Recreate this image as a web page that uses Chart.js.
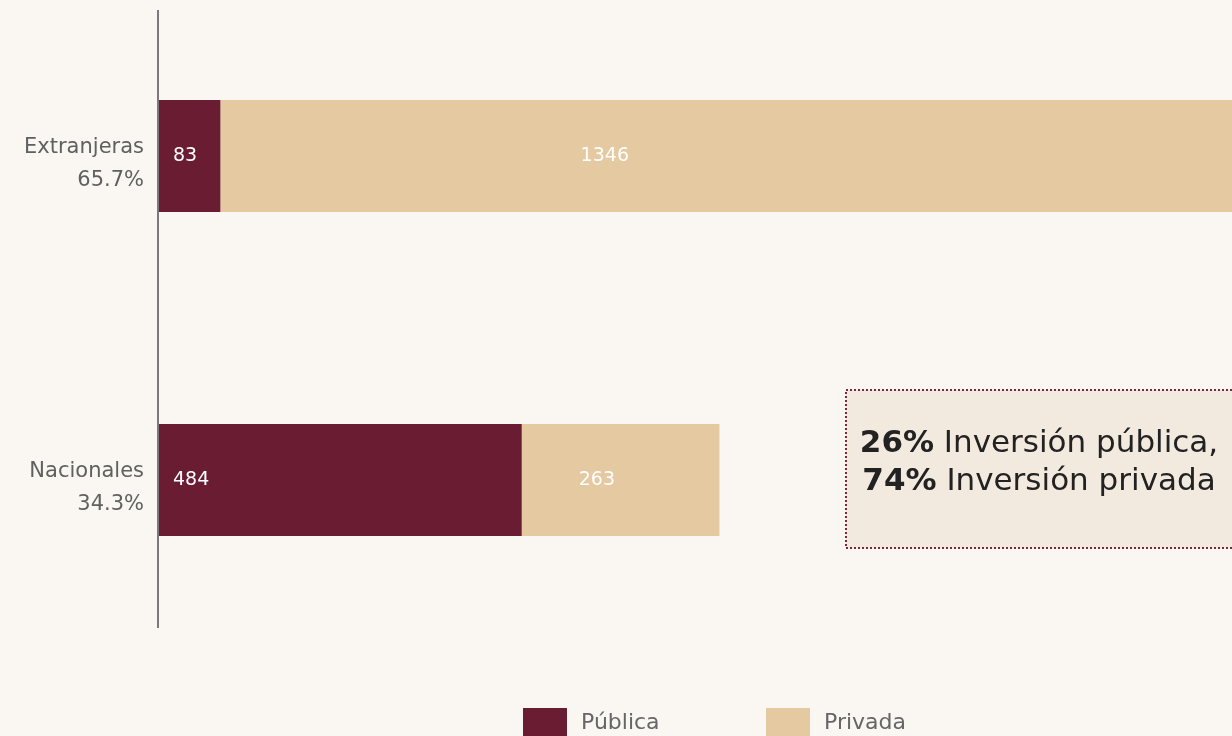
<!DOCTYPE html>
<html>
<head>
<meta charset="utf-8">
<script src="https://cdn.jsdelivr.net/npm/chart.js@4.4.1/dist/chart.umd.min.js"></script>
<style>
  html, body { margin: 0; padding: 0; background: #faf7f2; overflow: hidden; }
  #wrap { position: absolute; left: 0; top: -6px; width: 1232px; height: 780px; }
</style>
</head>
<body>
<div id="wrap"><canvas id="c"></canvas></div>
<script>
// categories, series and tick labels
const categories = ['Extranjeras', 'Nacionales'];
const shareLabels = ['65.7%', '34.3%'];
const publica = [83, 484];
const privada = [1346, 263];
const seriesNames = ['Pública', 'Privada'];
const seriesColors = ['#691c32', '#e4c9a1'];
const noteLines = [['26%', ' Inversión pública,'], ['74%', ' Inversión privada']];

const FONT = '"DejaVu Sans", sans-serif';
const totals = categories.map((c, i) => publica[i] + privada[i]);

// value labels inside bars
const barLabels = {
  id: 'barLabels',
  afterDatasetsDraw(chart) {
    const ctx = chart.ctx;
    ctx.save();
    ctx.font = '19px ' + FONT;
    ctx.fillStyle = '#ffffff';
    ctx.textBaseline = 'middle';
    chart.data.datasets.forEach((ds, di) => {
      const meta = chart.getDatasetMeta(di);
      meta.data.forEach((bar, i) => {
        const txt = String(ds.data[i]);
        if (di === 0) {
          ctx.textAlign = 'left';
          ctx.fillText(txt, bar.base + 15, bar.y);
        } else {
          ctx.textAlign = 'center';
          ctx.fillText(txt, bar.base + (bar.x - bar.base) * 0.38, bar.y);
        }
      });
    });
    ctx.restore();
  }
};

// axis line, note box and legend
const extras = {
  id: 'extras',
  afterDraw(chart) {
    const ctx = chart.ctx;
    const a = chart.chartArea;
    ctx.save();
    // vertical axis line
    ctx.strokeStyle = '#7a7a7a'; ctx.lineWidth = 2;
    ctx.beginPath(); ctx.moveTo(a.left, a.top + 16); ctx.lineTo(a.left, a.bottom - 14); ctx.stroke();

    // note box
    const bx = 846, by = 396, bw = 400, bh = 158;
    ctx.fillStyle = '#f3eadf';
    ctx.fillRect(bx, by, bw, bh);
    ctx.strokeStyle = '#7a2a3c'; ctx.lineWidth = 2; ctx.setLineDash([2, 2]);
    ctx.strokeRect(bx, by, bw, bh);
    ctx.setLineDash([]);
    ctx.fillStyle = '#222222'; ctx.textBaseline = 'middle'; ctx.textAlign = 'left';
    const cx = 1039;
    noteLines.forEach((ln, k) => {
      ctx.font = 'bold 31px ' + FONT;
      const w1 = ctx.measureText(ln[0]).width;
      ctx.font = '31px ' + FONT;
      const w2 = ctx.measureText(ln[1]).width;
      const x0 = cx - (w1 + w2) / 2;
      const y = by + 54 + k * 38;
      ctx.font = 'bold 31px ' + FONT; ctx.fillText(ln[0], x0, y);
      ctx.font = '31px ' + FONT; ctx.fillText(ln[1], x0 + w1, y);
    });

    // legend
    const lx = [523, 766], ly = 714;
    ctx.font = '22px ' + FONT; ctx.textBaseline = 'middle';
    seriesNames.forEach((n, k) => {
      ctx.fillStyle = seriesColors[k];
      ctx.fillRect(lx[k], ly, 44, 32);
      ctx.fillStyle = '#666666';
      ctx.fillText(n, lx[k] + 58, ly + 15);
    });
    ctx.restore();
  }
};

new Chart(document.getElementById('c'), {
  type: 'bar',
  data: {
    labels: categories,
    datasets: [
      { label: seriesNames[0], data: publica, backgroundColor: seriesColors[0], borderWidth: 0 },
      { label: seriesNames[1], data: privada, backgroundColor: seriesColors[1], borderWidth: 0 }
    ]
  },
  options: {
    indexAxis: 'y',
    responsive: true,
    maintainAspectRatio: false,
    animation: false,
    layout: { padding: { top: 0, right: 0, bottom: 132, left: 0 } },
    plugins: { legend: { display: false }, tooltip: { enabled: false } },
    datasets: { bar: { categoryPercentage: 0.345, barPercentage: 1 } },
    scales: {
      x: { stacked: true, display: false, min: 0, max: Math.max(...totals) },
      y: {
        stacked: true,
        grid: { display: false, drawTicks: false },
        border: { display: false },
        afterFit(s) { s.width = 158; s.paddingTop = 0; s.paddingBottom = 0; },
        ticks: {
          padding: 14,
          labelOffset: 8,
          color: '#606060',
          font: { family: FONT, size: 21, lineHeight: 1.6 },
          callback: (v, i) => [categories[i], shareLabels[i]]
        }
      }
    }
  },
  plugins: [barLabels, extras]
});
</script>
</body>
</html>
